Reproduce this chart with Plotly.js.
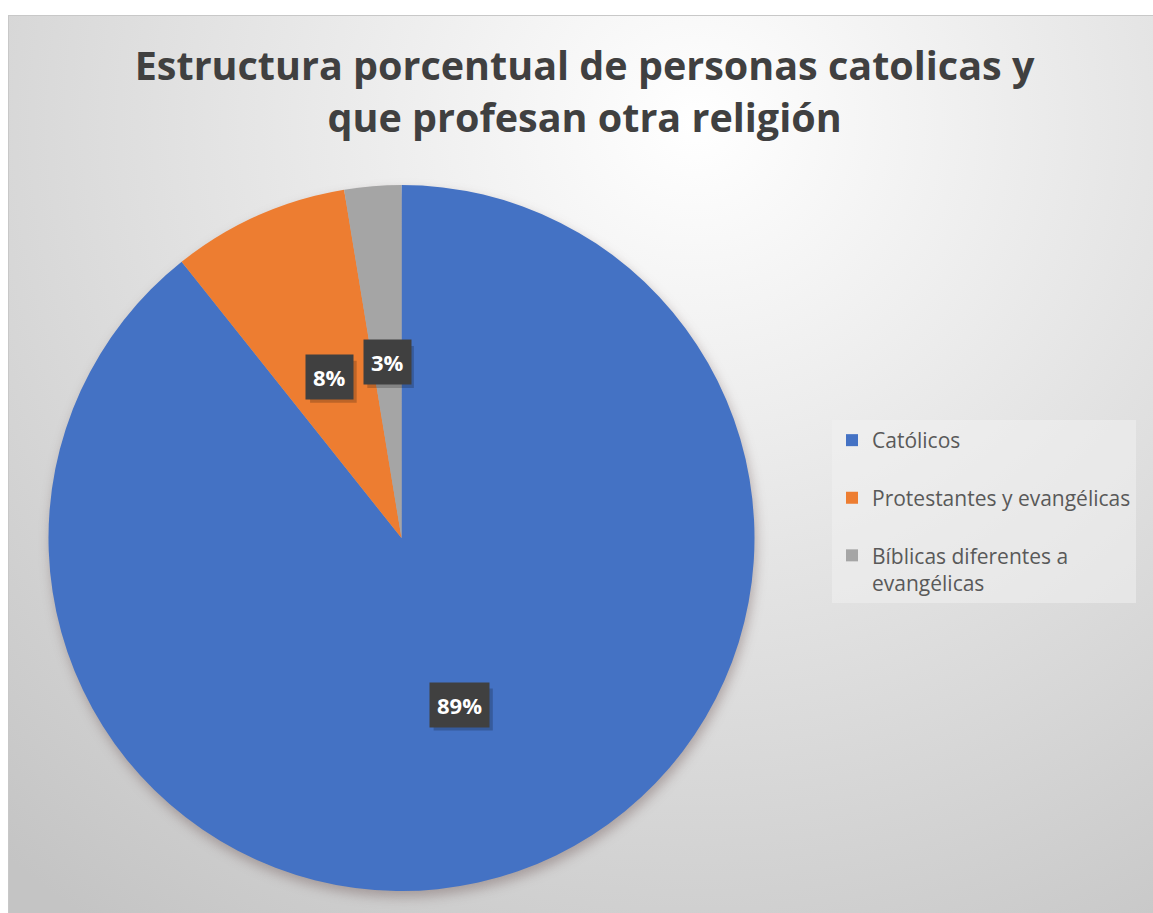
<!DOCTYPE html>
<html>
<head>
<meta charset="utf-8">
<script src="https://cdn.plot.ly/plotly-3.0.1.min.js"></script>
<style>
  html, body { margin: 0; padding: 0; background: #ffffff; }
  #bg { position: absolute; left: 8px; top: 15px; width: 1145px; height: 898px;
        border-top: 1px solid #c8c8c8; border-left: 1px solid #c8c8c8; box-sizing: border-box;
        background: radial-gradient(ellipse 90% 110% at 60% 12%, #ffffff 0%, #c4c4c4 100%); }
  #chart { position: absolute; left: 0; top: 0; width: 1153px; height: 913px; }
  .pielayer { filter: drop-shadow(2px 6px 6px rgba(90,60,60,0.35)); }
</style>
</head>
<body>
<div id="bg"></div>
<div id="chart"></div>
<script>
// Data
const categories = ["Católicos", "Protestantes y evangélicas", "Bíblicas diferentes a<br>evangélicas"];
const values = [89.3, 8.1, 2.6];
const colors = ["#4472C4", "#ED7D31", "#A5A5A5"];
const titleText = "Estructura porcentual de personas catolicas y<br>que profesan otra religión";

const W = 1153, H = 913;
const FONT = "'Open Sans', sans-serif";
const dom = { x: [48 / W, 755 / W], y: [22 / H, 728 / H] };

// legend labels padded for spacing
const legendLabels = categories.map((c, i) => i < categories.length - 1 ? c + "<br> " : c);

const trace = {
  type: "pie",
  labels: legendLabels,
  values: values,
  sort: false,
  direction: "clockwise",
  rotation: 0,
  marker: { colors: colors, line: { width: 0 } },
  textinfo: "none",
  hoverinfo: "label+percent",
  domain: dom,
  showlegend: true
};

// label boxes at half radius along each slice's mid-angle
const total = values.reduce((a, b) => a + b, 0);
const cx = (dom.x[0] + dom.x[1]) / 2, cy = (dom.y[0] + dom.y[1]) / 2;
const rPx = Math.min((dom.x[1] - dom.x[0]) * W, (dom.y[1] - dom.y[0]) * H) / 2;
const annotations = [];
const shapes = [];
let cum = 0;
values.forEach((v, i) => {
  const mid = (cum + v / 2) / total * 2 * Math.PI; // clockwise from top
  cum += v;
  const ax = cx + Math.sin(mid) * rPx * 0.5 / W;
  const ay = cy + Math.cos(mid) * rPx * 0.5 / H;
  const pct = String(Math.round(v / total * 100));
  const txt = "<b>" + pct + "%</b>";
  // soft shadow behind the label box
  const bw = 14 + 12.6 * pct.length + 19, bh = 40;
  shapes.push({ type: "rect", layer: "above", xref: "paper", yref: "paper",
    xsizemode: "pixel", ysizemode: "pixel", xanchor: ax, yanchor: ay,
    x0: -bw / 2 + 3, x1: bw / 2 + 4, y0: -bh / 2 - 6, y1: bh / 2 - 4,
    fillcolor: "rgba(0,0,0,0.2)", line: { width: 0 } });
  annotations.push({ x: ax, y: ay, xref: "paper", yref: "paper", xanchor: "center", yanchor: "middle",
    text: txt, showarrow: false, borderpad: 7, bgcolor: "#404040",
    font: { family: FONT, size: 22, color: "#ffffff" } });
});

const layout = {
  width: W, height: H,
  margin: { l: 0, r: 0, t: 0, b: 0 },
  paper_bgcolor: "rgba(0,0,0,0)",
  plot_bgcolor: "rgba(0,0,0,0)",
  title: { text: "<b>" + titleText + "</b>", x: 0.507, xanchor: "center", y: 0.912, yanchor: "top",
           yref: "container",
           font: { family: FONT, size: 39.5, color: "#404040" } },
  legend: { x: 832 / W, xanchor: "left", y: 1 - 420 / H, yanchor: "top",
            bgcolor: "rgba(240,240,240,0.55)", valign: "top",
            font: { family: FONT, size: 21, color: "#595959" } },
  shapes: shapes,
  annotations: annotations
};

Plotly.newPlot("chart", [trace], layout, { displayModeBar: false, staticPlot: true });
</script>
</body>
</html>
